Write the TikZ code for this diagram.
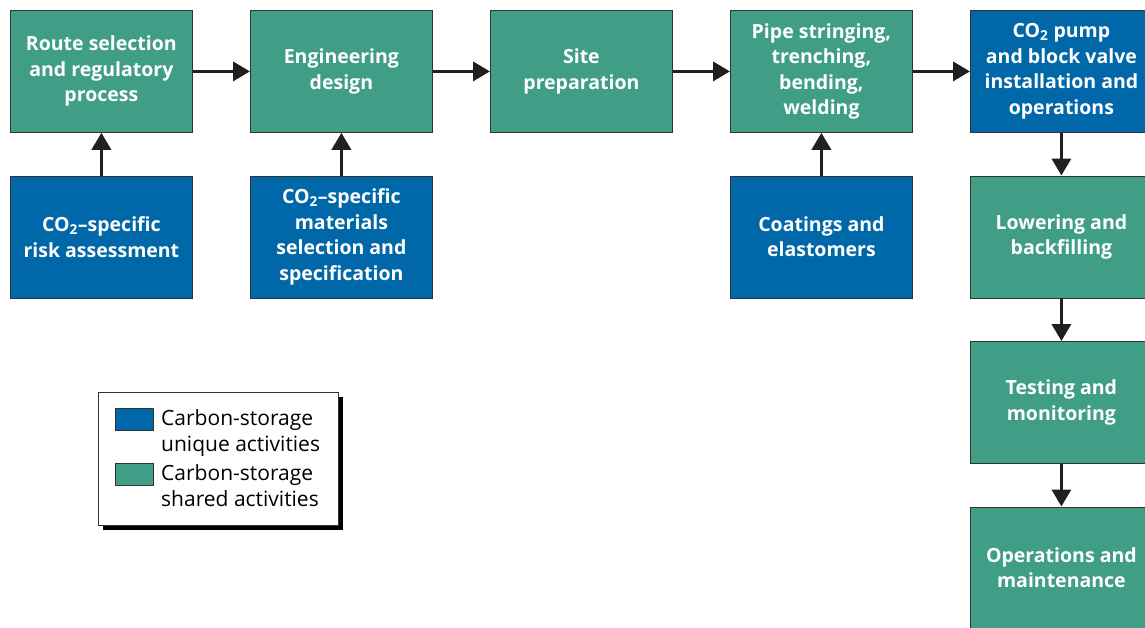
\documentclass[tikz,border=0pt]{standalone}
\usepackage{fontspec}
\setmainfont{Open Sans}
\usetikzlibrary{arrows.meta}
\definecolor{shgreen}{RGB}{64,158,135}
\definecolor{unblue}{RGB}{0,104,168}
\definecolor{edgegray}{RGB}{50,50,50}
\definecolor{arrowblk}{RGB}{35,31,32}
\tikzset{
  box/.style={draw=edgegray, line width=0.8pt, minimum width=182pt, minimum height=122pt,
    anchor=north west, inner sep=2pt, text=white, align=center,
    font=\fontsize{19.5}{25.5}\selectfont\bfseries},
  gbox/.style={box, fill=shgreen},
  bbox/.style={box, fill=unblue},
  arr/.style={draw=arrowblk, line width=3.6pt, -{Triangle[length=17pt,width=19pt]}},
  legsw/.style={draw=edgegray, line width=0.8pt, minimum width=38pt, minimum height=22pt, anchor=north west, inner sep=0pt},
  legtext/.style={anchor=north west, align=left, inner sep=0pt, font=\fontsize{21}{26}\selectfont}
}
\begin{document}
\begin{tikzpicture}[x=1pt,y=-1pt]
\useasboundingbox (0,0) rectangle (1145,627);
\clip (0,0) rectangle (1145,627);
% top row
\node[gbox] (route) at (10,10) {Route selection\\and regulatory\\process};
\node[gbox] (eng) at (250,10) {Engineering\\design};
\node[gbox] (site) at (490,10) {Site\\preparation};
\node[gbox] (pipe) at (730,10) {Pipe stringing,\\trenching,\\bending,\\welding};
\node[bbox] (pump) at (970,10) {CO\textsubscript{2} pump\\and block valve\\installation and\\operations};
% second row
\node[bbox] (risk) at (10,175.5) {CO\textsubscript{2}–specific\\risk assessment};
\node[bbox] (mat) at (250,175.5) {CO\textsubscript{2}–specific\\materials\\selection and\\specification};
\node[bbox] (coat) at (730,175.5) {Coatings and\\elastomers};
\node[gbox] (lower) at (970,175.5) {Lowering and\\backfilling};
\node[gbox] (test) at (970,341) {Testing and\\monitoring};
\node[gbox] (ops) at (970,506.5) {Operations and\\maintenance};
% arrows
\draw[arr] (route.east) -- (eng.west);
\draw[arr] (eng.east) -- (site.west);
\draw[arr] (site.east) -- (pipe.west);
\draw[arr] (pipe.east) -- (pump.west);
\draw[arr] (risk.north) -- (route.south);
\draw[arr] (mat.north) -- (eng.south);
\draw[arr] (coat.north) -- (pipe.south);
\draw[arr] (pump.south) -- (lower.north);
\draw[arr] (lower.south) -- (test.north);
\draw[arr] (test.south) -- (ops.north);
% legend
\fill[black] (103,397) rectangle (343,530);
\node[draw=edgegray, line width=0.8pt, fill=white, anchor=north west, minimum width=240pt, minimum height=133pt, inner sep=0pt] (legend) at (98,392) {};
\node[legsw, fill=unblue] (swu) at (115,408) {};
\node[legsw, fill=shgreen] (sws) at (115,463) {};
\node[legtext] (tu) at (161,409) {Carbon-storage\\unique activities};
\node[legtext] (ts) at (161,464) {Carbon-storage\\shared activities};
\end{tikzpicture}
\end{document}
